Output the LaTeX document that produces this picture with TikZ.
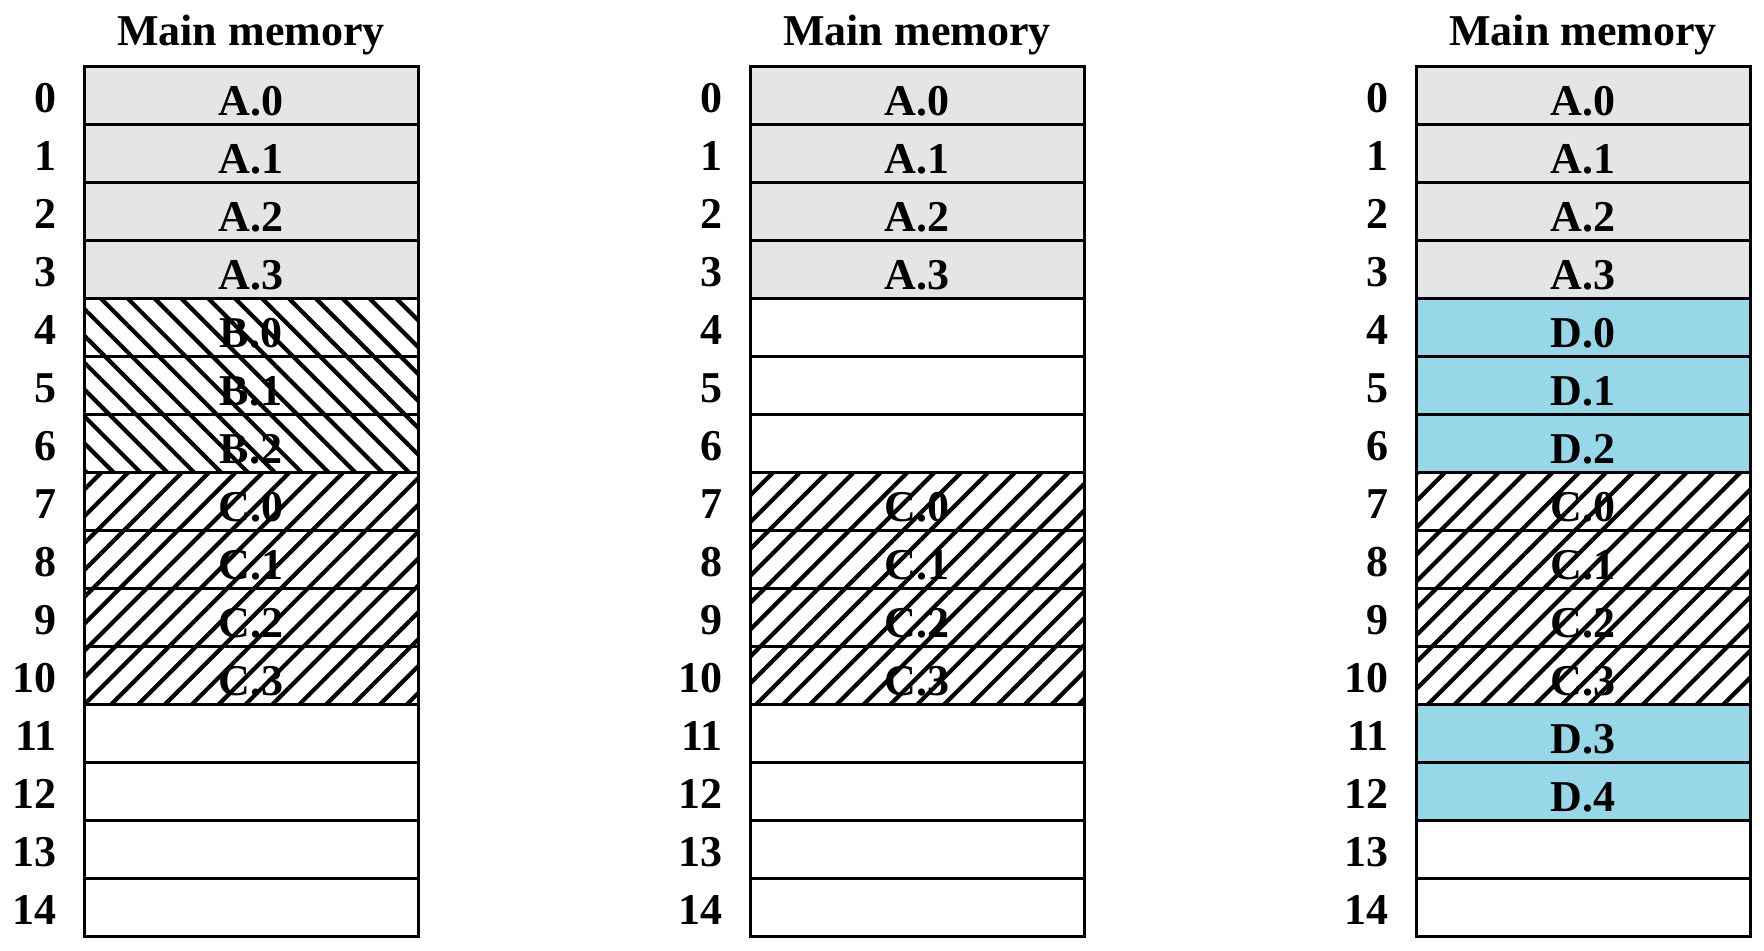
\documentclass[tikz,border=0pt]{standalone}
\usepackage{fontspec}
\setmainfont{Liberation Serif}
\usetikzlibrary{patterns.meta}
\definecolor{agray}{RGB}{229,229,229}
\definecolor{dblue}{RGB}{150,215,232}
\begin{document}
\begin{tikzpicture}[x=0.5pt,y=-0.5pt,
  lbl/.style={font=\bfseries\fontsize{22}{24}\selectfont},
  title/.style={lbl,anchor=base,inner sep=0pt},
  num/.style={lbl,anchor=east,inner sep=0pt,text height=17pt,text depth=0pt},
  cell/.style={lbl,draw=black,line width=1.5pt,rectangle,minimum width=167pt,minimum height=29pt,inner sep=0pt,text height=20pt,text depth=0pt},
  empty/.style={cell},
  acell/.style={cell,fill=agray},
  dcell/.style={cell,fill=dblue},
  bcell/.style={cell,pattern={Lines[angle=-45,distance=9.5pt,line width=2.1pt]}},
  ccell/.style={cell,pattern={Lines[angle=45,distance=9.5pt,line width=2.1pt]}}]
\useasboundingbox (0,0) rectangle (1764,950);
% titles and row numbers
\foreach \col/\cx in {1/251,2/917,3/1583}{
  \node[title] (t\col) at (\cx,45) {Main memory};
  \foreach \r in {0,...,14}{
    \node[num] (n\col-\r) at ({\cx-194},{95+58*\r}) {\r};
  }
}
% column 1
\node[acell] (a1-0) at (251,95) {A.0};
\node[acell] (a1-1) at (251,153) {A.1};
\node[acell] (a1-2) at (251,211) {A.2};
\node[acell] (a1-3) at (251,269) {A.3};
\node[bcell] (a1-4) at (251,327) {B.0};
\node[bcell] (a1-5) at (251,385) {B.1};
\node[bcell] (a1-6) at (251,443) {B.2};
\node[ccell] (a1-7) at (251,501) {C.0};
\node[ccell] (a1-8) at (251,559) {C.1};
\node[ccell] (a1-9) at (251,617) {C.2};
\node[ccell] (a1-10) at (251,675) {C.3};
\node[empty] (a1-11) at (251,733) {};
\node[empty] (a1-12) at (251,791) {};
\node[empty] (a1-13) at (251,849) {};
\node[empty] (a1-14) at (251,907) {};
% column 2
\node[acell] (a2-0) at (917,95) {A.0};
\node[acell] (a2-1) at (917,153) {A.1};
\node[acell] (a2-2) at (917,211) {A.2};
\node[acell] (a2-3) at (917,269) {A.3};
\node[empty] (a2-4) at (917,327) {};
\node[empty] (a2-5) at (917,385) {};
\node[empty] (a2-6) at (917,443) {};
\node[ccell] (a2-7) at (917,501) {C.0};
\node[ccell] (a2-8) at (917,559) {C.1};
\node[ccell] (a2-9) at (917,617) {C.2};
\node[ccell] (a2-10) at (917,675) {C.3};
\node[empty] (a2-11) at (917,733) {};
\node[empty] (a2-12) at (917,791) {};
\node[empty] (a2-13) at (917,849) {};
\node[empty] (a2-14) at (917,907) {};
% column 3
\node[acell] (a3-0) at (1583,95) {A.0};
\node[acell] (a3-1) at (1583,153) {A.1};
\node[acell] (a3-2) at (1583,211) {A.2};
\node[acell] (a3-3) at (1583,269) {A.3};
\node[dcell] (a3-4) at (1583,327) {D.0};
\node[dcell] (a3-5) at (1583,385) {D.1};
\node[dcell] (a3-6) at (1583,443) {D.2};
\node[ccell] (a3-7) at (1583,501) {C.0};
\node[ccell] (a3-8) at (1583,559) {C.1};
\node[ccell] (a3-9) at (1583,617) {C.2};
\node[ccell] (a3-10) at (1583,675) {C.3};
\node[dcell] (a3-11) at (1583,733) {D.3};
\node[dcell] (a3-12) at (1583,791) {D.4};
\node[empty] (a3-13) at (1583,849) {};
\node[empty] (a3-14) at (1583,907) {};
\end{tikzpicture}
\end{document}
